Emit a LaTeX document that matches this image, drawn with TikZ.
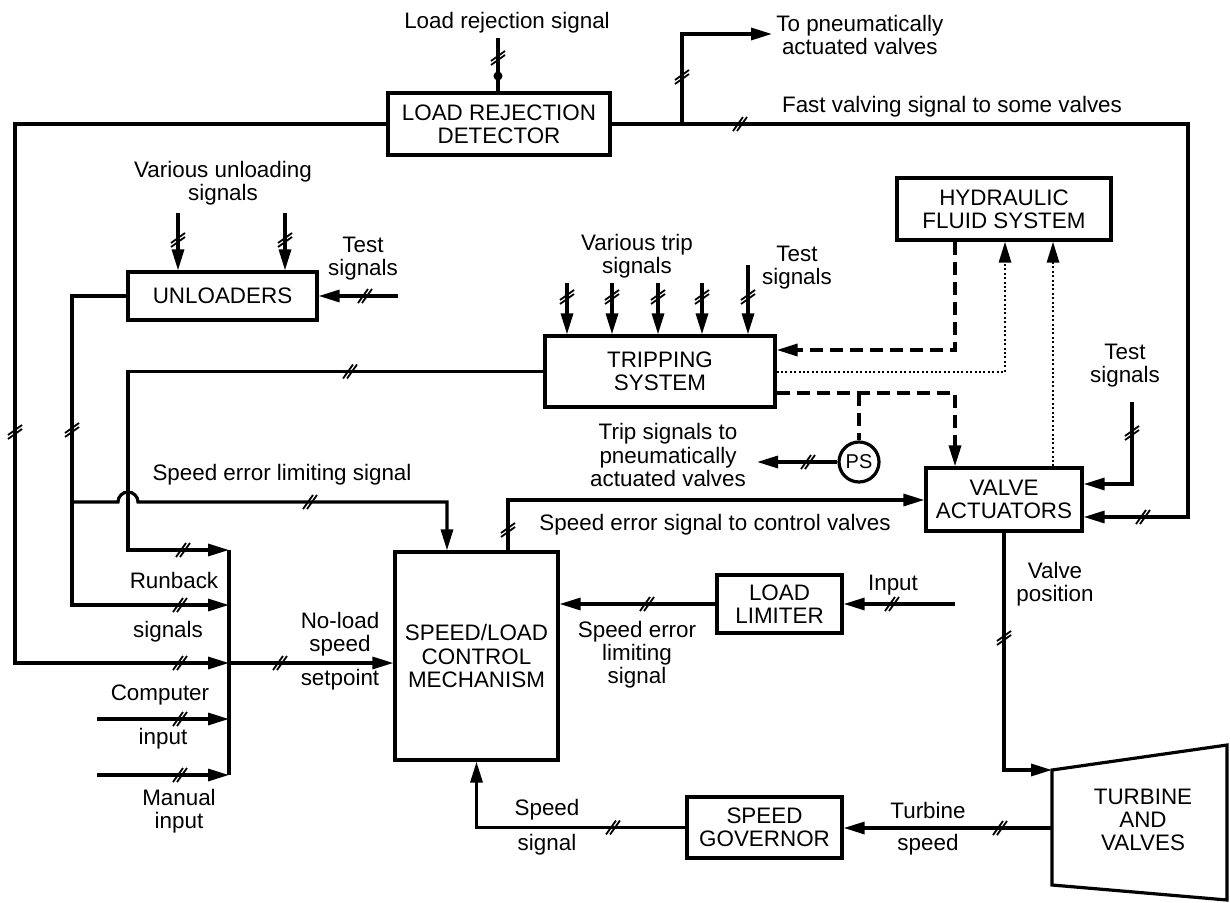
\documentclass[tikz,border=0pt]{standalone}
\usepackage{fontspec}
\setmainfont{Liberation Sans}
\usetikzlibrary{arrows.meta,calc}
\tikzset{
  >={Triangle[length=10.5pt,width=6pt]},
  blk/.style={draw,line width=1.6pt,inner sep=0pt,align=center,
    font=\fontsize{11.2}{11.6}\selectfont},
  lbl/.style={inner sep=0pt,align=center,font=\fontsize{11.2}{11.6}\selectfont},
  wire/.style={line width=1.6pt},
  dashwire/.style={line width=1.7pt,dash pattern=on 6.5pt off 3.5pt},
  dotwire/.style={line width=1.4pt,dash pattern=on 1pt off 1.2pt},
  tap/.style={circle,fill,inner sep=0pt,minimum size=4.5pt},
  hcut/.pic={\draw[line width=0.9pt] (-7,7) -- (3,-7) (-3,7) -- (7,-7);},
  vcut/.pic={\draw[line width=0.9pt] (-7,3) -- (7,-7) (-7,7) -- (7,-3);},
}

\begin{document}
\begin{tikzpicture}[x=0.5pt,y=-0.5pt]
\useasboundingbox (0,0) rectangle (1230,903);

% ---------- blocks ----------
\node[blk,minimum width=111pt,minimum height=31pt] (LRD) at (499,124) {LOAD REJECTION\\DETECTOR};
\node[blk,minimum width=94.5pt,minimum height=24pt] (UNL) at (222.5,296) {UNLOADERS};
\node[blk,minimum width=115pt,minimum height=35.5pt] (TRIP) at (660,371.5) {TRIPPING\\SYSTEM};
\node[blk,minimum width=107pt,minimum height=31pt] (HFS) at (1004,209) {HYDRAULIC\\FLUID SYSTEM};
\node[blk,minimum width=78pt,minimum height=31.5pt] (VA) at (1004,499.5) {VALVE\\ACTUATORS};
\node[blk,minimum width=81.5pt,minimum height=104pt] (SLCM) at (476.5,656) {SPEED/LOAD\\CONTROL\\MECHANISM};
\node[blk,minimum width=62.5pt,minimum height=29pt] (LL) at (779.5,604) {LOAD\\LIMITER};
\node[blk,minimum width=77.5pt,minimum height=30.5pt] (SG) at (764.5,827.5) {SPEED\\GOVERNOR};
\node[blk,circle,minimum size=20pt,font=\fontsize{10}{10}\selectfont] (PS) at (859,462) {PS};
\coordinate (tbA) at (1052,770); \coordinate (tbB) at (1227,745);
\coordinate (tbC) at (1227,900); \coordinate (tbD) at (1052,885);
\draw[wire] (tbA) -- (tbB) -- (tbC) -- (tbD) -- cycle;
\node[lbl] (TBV) at (1143,820) {TURBINE\\AND\\VALVES};

% ---------- labels ----------
\node[lbl] (lrsTxt) at (507,23) {Load rejection signal};
\node[lbl,anchor=west] (pneuTxt) at (776,35) {To pneumatically\\actuated valves};
\node[lbl] (fvTxt) at (952,107) {Fast valving signal to some valves};
\node[lbl] (unlTxt) at (223,183) {Various unloading\\signals};
\node[lbl] (ulTestTxt) at (363,259) {Test\\signals};
\node[lbl] (tripTxt) at (637,256) {Various trip\\signals};
\node[lbl] (trTestTxt) at (797,268) {Test\\signals};
\node[lbl] (vaTestTxt) at (1125,366) {Test\\signals};
\node[lbl] (tspTxt) at (668,455) {Trip signals to\\pneumatically\\actuated valves};
\node[lbl] (selTxt) at (282,475) {Speed error limiting signal};
\node[lbl] (secTxt) at (715,525) {Speed error signal to control valves};
\node[lbl] (vpTxt) at (1055,584) {Valve\\position};
\node[lbl] (inTxt) at (893,585) {Input};
\node[lbl] (llTxt) at (637,655) {Speed error\\limiting\\signal};
\node[lbl] (rbTxt) at (174,580) {Runback};
\node[lbl] (rbTxt2) at (168,632) {signals};
\node[lbl] (nlTxt) at (340,634) {No-load\\speed};
\node[lbl] (nlTxt2) at (340,680) {setpoint};
\node[lbl] (cpTxt) at (160,695) {Computer};
\node[lbl] (cpTxt2) at (163,739) {input};
\node[lbl] (mnTxt) at (179,811) {Manual\\input};
\node[lbl] (ssTxt) at (547,810) {Speed};
\node[lbl] (ssTxt2) at (547,845) {signal};
\node[lbl] (tsTxt) at (928,810) {Turbine};
\node[lbl] (tsTxt2) at (928,845) {speed};

% ================= LOAD REJECTION =================
\coordinate (lrsIn) at (498,38);
\draw[wire] (lrsIn) -- (lrsIn |- LRD.north);
\node[tap] (lrsTap) at (498,76) {};
\pic at (498,58) {vcut};
\coordinate (jFV) at (682,124);
\coordinate (pneuEnd) at (772,34);
\coordinate (fvR) at (1188,517);
\draw[wire] (LRD.east) -- (jFV);
\draw[wire,->] (jFV) |- (pneuEnd);
\draw[wire,->] (jFV) -| (fvR) -- (fvR -| VA.east);
\pic at (682,77) {vcut};
\pic at (740,124) {hcut};
\pic at (1143,517) {hcut};

% left loop into the bus
\coordinate (busTop) at (229,550);
\coordinate (busBot) at (229,775);
\coordinate (lpL) at (15,663);
\draw[wire,->] (LRD.west) -| (lpL) -- (lpL -| busTop);
\draw[wire] (busTop) -- (busBot);
\draw[wire,->] (lpL -| busTop) -- (lpL -| SLCM.west);
\pic at (15,432) {vcut};
\pic at (180,663) {hcut};
\pic at (280,663) {hcut};

% ================= UNLOADERS =================
\foreach \ux [count=\i] in {178,285} {
  \coordinate (ul\i) at (\ux,213);
  \draw[wire,->] (ul\i) -- (ul\i |- UNL.north);
  \pic at (\ux,240) {vcut};
}
\coordinate (ulT) at (398,296);
\draw[wire,->] (ulT) -- (UNL.east);
\pic at (365,296) {hcut};
\coordinate (rb2) at (72,605);
\draw[wire,->] (UNL.west) -| (rb2) -- (rb2 -| busTop);
\pic at (72,430) {vcut};
\pic at (180,605) {hcut};

% speed error limiting signal (hops over the runback line)
\coordinate (sel) at (72,502);
\coordinate (selC) at (447,502);
\draw[wire,->] (sel) -- ++(46,0) arc[start angle=180,end angle=360,radius=10]
  -- (selC) -- (selC |- SLCM.north);
\pic at (310,502) {hcut};

% ================= TRIPPING =================
\coordinate (rb1) at (128,550);
\draw[wire,->] (TRIP.west) -| (rb1) -- (busTop);
\pic at (350,371.5) {hcut};
\pic at (183,550) {hcut};
\foreach \tx/\ty [count=\i] in {567/283,612/283,658/283,702/283,748/265} {
  \coordinate (ts\i) at (\tx,\ty);
  \draw[wire,->] (ts\i) -- (ts\i |- TRIP.north);
  \pic at (\tx,297) {vcut};
}

% hydraulic / pneumatic links
\coordinate (hd) at (955,350);
\draw[dashwire,->] (hd |- HFS.south) -- (hd) -- (hd -| TRIP.east);
\coordinate (hdt) at (1005,372);
\draw[dotwire,->] (hdt -| TRIP.east) -- (hdt) -- (hdt |- HFS.south);
\coordinate (vdt) at (1053,468);
\draw[dotwire,->] (vdt |- VA.north) -- (vdt |- HFS.south);
\coordinate (tva) at (955,393);
\draw[dashwire,->] (tva -| TRIP.east) -- (tva) -- (tva |- VA.north);
\coordinate (psj) at (859,393);
\draw[dashwire] (psj) -- (PS.north);
\coordinate (psOut) at (757,462);
\draw[wire,->] (PS.west) -- (psOut);
\pic at (808,462) {hcut};

% ================= VALVE ACTUATORS =================
\coordinate (vaT) at (1132,402);
\coordinate (vaTc) at (1132,484);
\draw[wire,->] (vaT) -- (vaTc) -- (vaTc -| VA.east);
\pic at (1132,433) {vcut};
\coordinate (sec) at (508,500);
\draw[wire,->] (sec |- SLCM.north) -- (sec) -- (sec -| VA.west);
\pic at (508,530) {vcut};
\draw[wire,->] (VA.south) |- (tbA);
\pic at (1004,638) {vcut};

% ================= LIMITER / GOVERNOR =================
\draw[wire,->] (LL.west) -- (LL.west -| SLCM.east);
\pic at (647,604) {hcut};
\coordinate (llIn) at (955,604);
\draw[wire,->] (llIn) -- (LL.east);
\pic at (892,604) {hcut};
\coordinate (tbS) at (1052,828);
\draw[wire,->] (tbS) -- (tbS -| SG.east);
\pic at (1000,828) {hcut};
\draw[wire,->] (SG.west) -| (SLCM.south);
\pic at (613,827.5) {hcut};

% ================= BUS INPUTS =================
\coordinate (cpIn) at (97,719);
\coordinate (mnIn) at (97,775);
\draw[wire,->] (cpIn) -- (cpIn -| busTop);
\draw[wire,->] (mnIn) -- (mnIn -| busTop);
\pic at (180,719) {hcut};
\pic at (180,775) {hcut};

\end{tikzpicture}
\end{document}
